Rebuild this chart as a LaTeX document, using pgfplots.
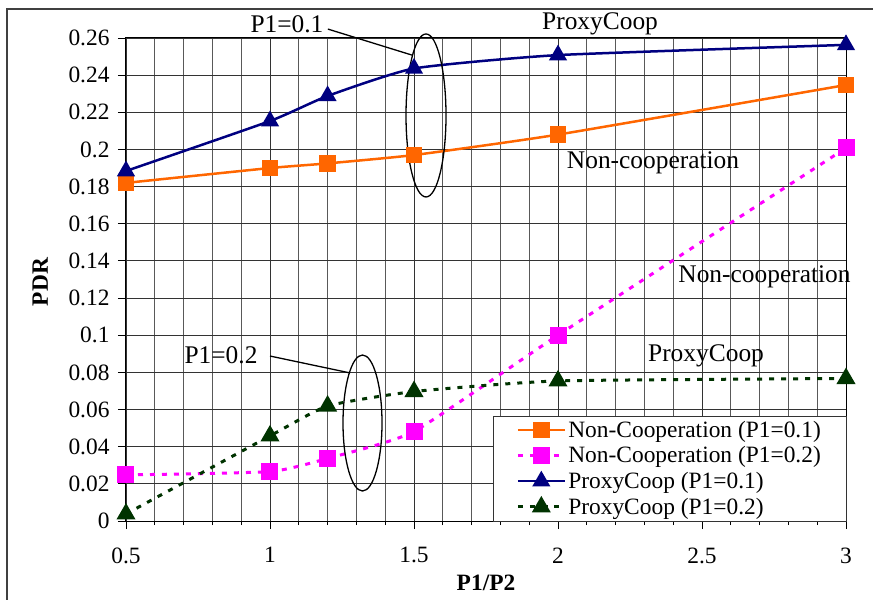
\documentclass[border=0pt]{standalone}
\usepackage{fontspec}
\setmainfont{Liberation Serif}
\usepackage{pgfplots}
\pgfplotsset{compat=1.18}
\definecolor{corange}{RGB}{255,102,0}
\definecolor{cmagenta}{RGB}{255,0,255}
\definecolor{cnavy}{RGB}{0,0,128}
\definecolor{cgreen}{RGB}{0,51,0}
\begin{document}
\begin{tikzpicture}
\begin{axis}[
  at={(0,0)}, anchor=south west,
  scale only axis, width=720bp, height=483bp,
  xmin=0.5, xmax=3, ymin=0, ymax=0.26,
  xtick={0.5,1,1.5,2,2.5,3},
  xticklabels={0.5,1,1.5,2,2.5,3},
  minor x tick num=4,
  ytick={0,0.02,0.04,0.06,0.08,0.1,0.12,0.14,0.16,0.18,0.2,0.22,0.24,0.26},
  yticklabels={0,0.02,0.04,0.06,0.08,0.1,0.12,0.14,0.16,0.18,0.2,0.22,0.24,0.26},
  grid=both,
  major grid style={black!80, line width=0.9bp},
  minor grid style={black!65, line width=0.9bp},
  tick align=outside, xtick pos=left, ytick pos=left,
  major tick length=8bp, minor tick length=4bp,
  tick style={black, line width=0.9bp},
  ticklabel style={font=\fontsize{23.5}{23.5}\selectfont},
  xticklabel style={yshift=-15bp},
  yticklabel style={xshift=-5bp},
  /pgf/number format/assume math mode=true,
  axis line style={black, line width=1bp},
  xlabel={\textbf{P1/P2}}, ylabel={\textbf{PDR}},
  xlabel style={at={(axis description cs:0.5,-0.128)}, anchor=center, font=\fontsize{23.5}{23.5}\selectfont},
  ylabel style={at={(axis description cs:-0.119,0.495)}, anchor=center, font=\fontsize{23.5}{23.5}\selectfont},
  clip=false,
  legend cell align=left,
  legend style={at={(axis cs:3,0)}, anchor=south east, draw=black!80, fill=white,
    font=\fontsize{23.5}{23.5}\selectfont, inner xsep=23bp, inner ysep=3bp, row sep=4bp},
  legend image code/.code={\draw[mark repeat=2, mark phase=2] plot coordinates {(0bp,0bp) (23.5bp,0bp) (47bp,0bp)};},
]
\addplot[corange, line width=2.5bp, smooth, tension=0.3, mark=square*, mark size=7bp, mark options={solid, fill=corange, draw=corange}]
  coordinates {(0.5,0.182) (1,0.190) (1.2,0.1925) (1.5,0.197) (2,0.208) (3,0.2347)};
\addlegendentry{Non-Cooperation (P1=0.1)}
\addplot[cmagenta, line width=3bp, dash pattern=on 5bp off 7bp, smooth, tension=0.3, mark=square*, mark size=7bp, mark options={solid, fill=cmagenta, draw=cmagenta}]
  coordinates {(0.5,0.0248) (1,0.0266) (1.2,0.0337) (1.5,0.0482) (2,0.100) (3,0.2008)};
\addlegendentry{Non-Cooperation (P1=0.2)}
\addplot[cnavy, line width=2.5bp, smooth, tension=0.3, mark=triangle*, mark size=8bp, mark options={solid, fill=cnavy, draw=cnavy}]
  coordinates {(0.5,0.1884) (1,0.2153) (1.2,0.2288) (1.5,0.2436) (2,0.2508) (3,0.2563)};
\addlegendentry{ProxyCoop (P1=0.1)}
\addplot[cgreen, line width=3bp, dash pattern=on 5bp off 7bp, smooth, tension=0.3, mark=triangle*, mark size=8bp, mark options={solid, fill=cgreen, draw=cgreen}]
  coordinates {(0.5,0.0038) (1,0.0458) (1.2,0.0619) (1.5,0.0697) (2,0.0754) (3,0.0767)};
\addlegendentry{ProxyCoop (P1=0.2)}

\draw[black, line width=1.3bp] (axis cs:1.5417,0.2183) ellipse [x radius=20bp, y radius=81.5bp];
\draw[black, line width=1.3bp] (axis cs:1.201,0.2648) -- (axis cs:1.493,0.2508);
\draw[black, line width=1.3bp] (axis cs:1.3212,0.05275) ellipse [x radius=19.5bp, y radius=68bp];
\draw[black, line width=1.3bp] (axis cs:1.0,0.0888) -- (axis cs:1.278,0.0797);

\node[font=\fontsize{25.5}{28}\selectfont] at (axis cs:1.059,0.2675) {P1=0.1};
\node[font=\fontsize{25.5}{28}\selectfont] at (axis cs:0.830,0.0894) {P1=0.2};
\node[font=\fontsize{25.5}{28}\selectfont] at (axis cs:2.146,0.2675) {ProxyCoop};
\node[font=\fontsize{25.5}{28}\selectfont] at (axis cs:2.330,0.1927) {Non-cooperation};
\node[font=\fontsize{25.5}{28}\selectfont] at (axis cs:2.717,0.1313) {Non-cooperation};
\node[font=\fontsize{25.5}{28}\selectfont] at (axis cs:2.514,0.0888) {ProxyCoop};
\end{axis}
\draw[black!75, line width=1.6bp] (-119bp,-90bp) -- (-119bp,512bp) -- (760bp,512bp);
\pgfresetboundingbox
\useasboundingbox (-126bp,-79bp) rectangle (747bp,521bp);
\end{tikzpicture}
\end{document}
